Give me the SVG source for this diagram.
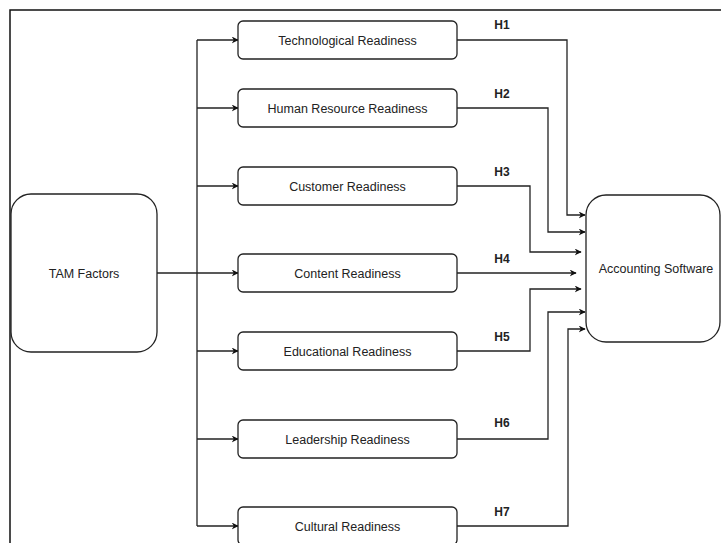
<svg xmlns="http://www.w3.org/2000/svg" width="721" height="543" viewBox="0 0 721 543">
  <defs>
    <marker id="arrow" viewBox="0 0 10 10" refX="9" refY="5" markerWidth="7" markerHeight="7" markerUnits="userSpaceOnUse" orient="auto">
      <path d="M0,0 L10,5 L0,10 L3,5 Z" fill="#111"/>
    </marker>
    <style>
      .frame { fill: none; stroke: #111; stroke-width: 1.5; }
      .box { fill: #fff; stroke: #222; stroke-width: 1.3; }
      .lbl { font-family: "Liberation Sans", Arial, sans-serif; font-size: 12.5px; fill: #222; text-anchor: middle; }
      .hyp { font-family: "Liberation Sans", Arial, sans-serif; font-size: 12px; font-weight: bold; fill: #222; text-anchor: middle; }
      .edge { fill: none; stroke: #222; stroke-width: 1.3; }
      .edge.arr { marker-end: url(#arrow); }
    </style>
  </defs>

  <rect width="721" height="543" fill="#fff"/>

  <!-- page frame -->
  <path class="frame" d="M10,543 V10 H721"/>

  <!-- connectors -->
  <g id="connectors">
    <!-- TAM Factors fan-out -->
    <path class="edge" d="M197,40 V526"/>
    <path class="edge arr" d="M197,40 H238"/>
    <path class="edge arr" d="M197,108 H238"/>
    <path class="edge arr" d="M197,186 H238"/>
    <path class="edge arr" d="M157,273 H238"/>
    <path class="edge arr" d="M197,351 H238"/>
    <path class="edge arr" d="M197,439 H238"/>
    <path class="edge arr" d="M197,526 H238"/>

    <!-- hypotheses into Accounting Software -->
    <path class="edge arr" d="M457,40 H567 V215 H585"/>
    <path class="edge arr" d="M457,108 H548 V232 H585"/>
    <path class="edge arr" d="M457,186 H530 V252 H581"/>
    <path class="edge arr" d="M457,273 H576"/>
    <path class="edge arr" d="M457,351 H530 V289 H581"/>
    <path class="edge arr" d="M457,439 H548 V312 H585"/>
    <path class="edge arr" d="M457,526 H568 V329 H585"/>

    <text class="hyp" x="502" y="29">H1</text>
    <text class="hyp" x="502" y="98">H2</text>
    <text class="hyp" x="502" y="176">H3</text>
    <text class="hyp" x="502" y="263">H4</text>
    <text class="hyp" x="502" y="341">H5</text>
    <text class="hyp" x="502" y="427">H6</text>
    <text class="hyp" x="502" y="516">H7</text>
  </g>

  <g id="tam-factors">
    <rect class="box" x="11" y="194" width="146" height="158" rx="20" ry="20"/>
    <text class="lbl" x="84" y="277.5">TAM Factors</text>
  </g>

  <g id="technological-readiness">
    <rect class="box" x="238" y="21" width="219" height="38" rx="5" ry="5"/>
    <text class="lbl" x="347.5" y="44.5">Technological Readiness</text>
  </g>

  <g id="human-resource-readiness">
    <rect class="box" x="238" y="89" width="219" height="38" rx="5" ry="5"/>
    <text class="lbl" x="347.5" y="112.5">Human Resource Readiness</text>
  </g>

  <g id="customer-readiness">
    <rect class="box" x="238" y="167" width="219" height="38" rx="5" ry="5"/>
    <text class="lbl" x="347.5" y="190.5">Customer Readiness</text>
  </g>

  <g id="content-readiness">
    <rect class="box" x="238" y="254" width="219" height="38" rx="5" ry="5"/>
    <text class="lbl" x="347.5" y="277.5">Content Readiness</text>
  </g>

  <g id="educational-readiness">
    <rect class="box" x="238" y="332" width="219" height="38" rx="5" ry="5"/>
    <text class="lbl" x="347.5" y="355.5">Educational Readiness</text>
  </g>

  <g id="leadership-readiness">
    <rect class="box" x="238" y="420" width="219" height="38" rx="5" ry="5"/>
    <text class="lbl" x="347.5" y="443.5">Leadership Readiness</text>
  </g>

  <g id="cultural-readiness">
    <rect class="box" x="238" y="507" width="219" height="38" rx="5" ry="5"/>
    <text class="lbl" x="347.5" y="530.5">Cultural Readiness</text>
  </g>

  <g id="accounting-software">
    <rect class="box" x="586" y="195" width="134" height="147" rx="20" ry="20"/>
    <text class="lbl" x="656" y="273">Accounting Software</text>
  </g>
</svg>
